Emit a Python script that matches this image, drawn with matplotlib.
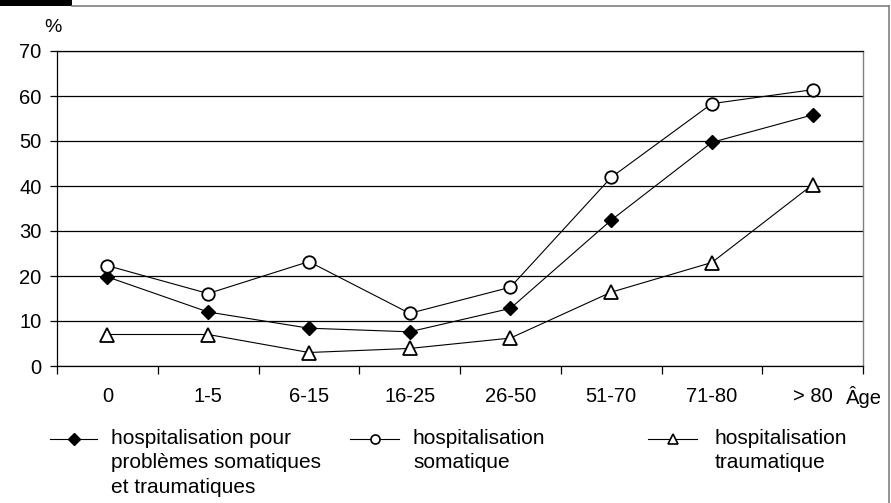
import matplotlib
matplotlib.use("Agg")
import matplotlib.pyplot as plt
from matplotlib.lines import Line2D
from matplotlib.patches import Rectangle

plt.rcParams['font.family'] = ['Liberation Sans', 'DejaVu Sans']

# données
categories = ['0', '1-5', '6-15', '16-25', '26-50', '51-70', '71-80', '> 80']
somatique_traumatique = [19.8, 12.0, 8.4, 7.6, 12.8, 32.4, 49.7, 55.8]
somatique = [22.3, 16.1, 23.2, 11.7, 17.5, 41.9, 58.3, 61.4]
traumatique = [7.0, 7.0, 3.0, 3.9, 6.2, 16.4, 23.0, 40.3]

labels = ['hospitalisation pour\nproblèmes somatiques\net traumatiques',
          'hospitalisation\nsomatique',
          'hospitalisation\ntraumatique']

W, H = 891, 503
fig = plt.figure(figsize=(W / 100, H / 100), dpi=100)

def fx(px):
    return px / W

def fy(py):
    return 1 - py / H

ax = fig.add_axes([fx(57), fy(366), fx(863) - fx(57), fy(51) - fy(366)])

x = list(range(len(categories)))
styles = [
    dict(marker='D', markersize=7, markerfacecolor='black', markeredgecolor='black'),
    dict(marker='o', markersize=9, markerfacecolor='white', markeredgecolor='black', markeredgewidth=1.3),
    dict(marker='^', markersize=10, markerfacecolor='white', markeredgecolor='black', markeredgewidth=1.3),
]
series = [somatique_traumatique, somatique, traumatique]
for vals, st in zip(series, styles):
    ax.plot(x, vals, color='black', linewidth=0.8, zorder=3, **st)

ax.set_xlim(-0.5, len(categories) - 0.5)
ax.set_ylim(0, 70)
ax.set_yticks(range(0, 71, 10))
ax.yaxis.grid(True, color='black', linewidth=0.9)
ax.set_axisbelow(True)

ax.set_xticks([i - 0.5 for i in range(len(categories) + 1)])
ax.set_xticklabels([])
ax.set_xticks(x, minor=True)
ax.set_xticklabels(categories, minor=True)
ax.tick_params(axis='x', which='major', direction='out', length=6, width=0.9)
ax.tick_params(axis='x', which='minor', length=0, pad=15, labelsize=14.5)
ax.tick_params(axis='y', direction='out', length=5, width=0.9, labelsize=14.5, pad=6)

for s in ['left', 'bottom', 'top']:
    ax.spines[s].set_color('black')
    ax.spines[s].set_linewidth(0.9)
ax.spines['right'].set_color('#808080')
ax.spines['right'].set_linewidth(1.0)

fig.text(fx(44), fy(28), '%', fontsize=14, ha='left', va='center')
fig.text(fx(846), fy(397), 'Âge', fontsize=14.5, ha='left', va='center')

# légende dessinée à la main
leg_y = 439
leg_styles = [
    dict(marker='D', markersize=6, markerfacecolor='black', markeredgecolor='black'),
    dict(marker='o', markersize=6.5, markerfacecolor='white', markeredgecolor='black', markeredgewidth=1.2),
    dict(marker='^', markersize=7.5, markerfacecolor='white', markeredgecolor='black', markeredgewidth=1.2),
]
leg_pos = [(50, 97, 111), (350, 399, 413), (648, 697, 715)]
for (x0, x1, xt), st, lab in zip(leg_pos, leg_styles, labels):
    fig.add_artist(Line2D([fx(x0), fx((x0 + x1) / 2), fx(x1)], [fy(leg_y)] * 3,
                          transform=fig.transFigure, color='black', linewidth=0.8,
                          markevery=[1], **st))
    fig.text(fx(xt), fy(leg_y - 10), lab, fontsize=15, ha='left', va='top',
             linespacing=1.36)

# cadre
fig.add_artist(Rectangle((0, fy(6)), fx(72), 1 - fy(6), transform=fig.transFigure,
                         color='black', linewidth=0))
fig.add_artist(Line2D([fx(72), fx(889)], [fy(6), fy(6)], transform=fig.transFigure,
                      color='#808080', linewidth=1.2))
fig.add_artist(Line2D([fx(889), fx(889)], [fy(6), 0], transform=fig.transFigure,
                      color='#808080', linewidth=1.2))

fig.savefig('out.png', dpi=100)
